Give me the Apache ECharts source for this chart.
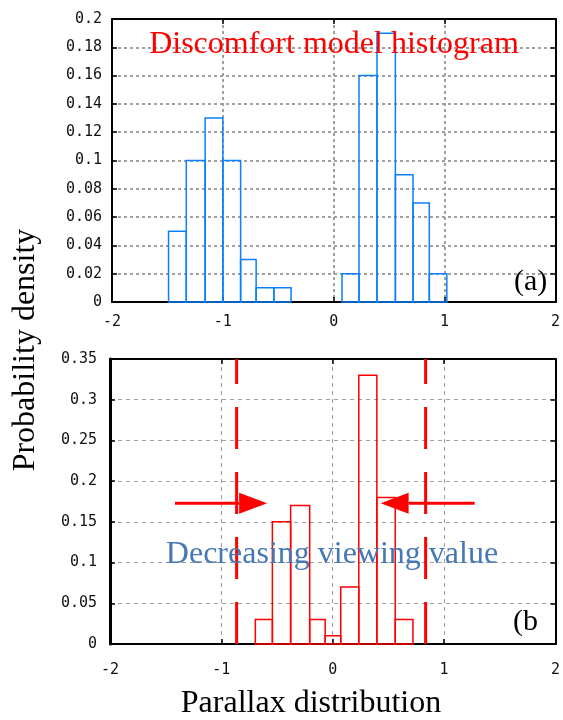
<!DOCTYPE html>
<html>
<head>
<meta charset="utf-8">
<script src="https://cdn.jsdelivr.net/npm/echarts@6/dist/echarts.min.js"></script>
<style>
  html, body { margin: 0; padding: 0; background: #fff; }
  #chart { width: 563px; height: 720px; }
</style>
</head>
<body>
<div id="chart"></div>
<script>
// x ticks shared by both panels
const xTicks = [-2, -1, 0, 1, 2];

// (a) discomfort model histogram - bin edges and heights
const discomfortEdgesNeg = [-1.49, -1.33, -1.16, -1.0, -0.84, -0.70, -0.54, -0.385];
const discomfortNeg = [0.05, 0.10, 0.13, 0.10, 0.03, 0.01, 0.01];
const discomfortEdgesPos = [0.075, 0.228, 0.39, 0.556, 0.715, 0.862, 1.02];
const discomfortPos = [0.02, 0.16, 0.19, 0.09, 0.07, 0.02];
const yTicksA = [0, 0.02, 0.04, 0.06, 0.08, 0.1, 0.12, 0.14, 0.16, 0.18, 0.2];

// (b) viewing histogram
const viewingEdges = [-0.695, -0.542, -0.378, -0.207, -0.068, 0.072, 0.234, 0.396, 0.561, 0.72];
const viewing = [0.03, 0.15, 0.17, 0.03, 0.01, 0.07, 0.33, 0.18, 0.03];
const yTicksB = [0, 0.05, 0.1, 0.15, 0.2, 0.25, 0.3, 0.35];

// dashed comfort bounds and the two arrows [from, to, y]
const boundX = [-0.863, 0.834];
const arrows = [[-1.417, -0.589, 0.1728], [1.274, 0.43, 0.1728]];

const toBins = (edges, h) => h.map((v, i) => [edges[i], edges[i + 1], v]);

const serif = '"Liberation Serif", "Times New Roman", serif';
const mono = '"DejaVu Sans Mono", monospace';

function histSeries(data, xi, yi, color) {
  return {
    type: 'custom',
    xAxisIndex: xi,
    yAxisIndex: yi,
    data: data,
    encode: { x: [0, 1], y: 2 },
    z: 3,
    renderItem: function (params, api) {
      const p0 = api.coord([api.value(0), 0]);
      const p1 = api.coord([api.value(1), api.value(2)]);
      return {
        type: 'rect',
        shape: { x: p0[0], y: p1[1], width: p1[0] - p0[0], height: p0[1] - p1[1] },
        style: { fill: 'none', stroke: color, lineWidth: 1.5 }
      };
    }
  };
}

function xAxisFor(grid, pos, labelMargin, lineW, grid_style) {
  const main = pos === 'bottom';
  return {
    type: 'value', gridIndex: grid, position: pos,
    min: xTicks[0], max: xTicks[xTicks.length - 1], interval: 1,
    axisLine: { show: true, onZero: false, lineStyle: { color: '#000', width: lineW } },
    axisTick: { show: true, inside: true, length: 5, lineStyle: { color: '#000', width: 1.5 } },
    axisLabel: { show: main, margin: labelMargin, color: '#111', fontFamily: mono, fontSize: 15 },
    splitLine: { show: main, lineStyle: grid_style }
  };
}

function yAxisFor(grid, pos, ticks, step, labelMargin, lineW, grid_style) {
  const main = pos === 'left';
  return {
    type: 'value', gridIndex: grid, position: pos,
    min: ticks[0], max: ticks[ticks.length - 1], interval: step,
    axisLine: { show: true, onZero: false, lineStyle: { color: '#000', width: lineW } },
    axisTick: { show: true, inside: true, length: 5, lineStyle: { color: '#000', width: 1.5 } },
    axisLabel: { show: main, margin: labelMargin, color: '#111', fontFamily: mono, fontSize: 15 },
    splitLine: { show: main, lineStyle: grid_style }
  };
}

const gridA = { color: '#a0a0a0', width: 2, type: [3, 3] };
const gridB = { color: '#a0a0a0', width: 1, type: [4, 4] };

const chart = echarts.init(document.getElementById('chart'));

const option = {
  animation: false,
  backgroundColor: '#fff',
  grid: [
    { left: 112, top: 19, width: 444, height: 283 },
    { left: 110, top: 359, width: 446, height: 285 }
  ],
  xAxis: [
    xAxisFor(0, 'bottom', 13, 2, gridA),
    xAxisFor(0, 'top', 13, 2, gridA),
    xAxisFor(1, 'bottom', 19, 2, gridB),
    xAxisFor(1, 'top', 19, 2, gridB)
  ],
  yAxis: [
    yAxisFor(0, 'left', yTicksA, 0.02, 10, 2, gridA),
    yAxisFor(0, 'right', yTicksA, 0.02, 10, 2, gridA),
    yAxisFor(1, 'left', yTicksB, 0.05, 13, 3, gridB),
    yAxisFor(1, 'right', yTicksB, 0.05, 13, 2, gridB)
  ],
  series: [
    histSeries(toBins(discomfortEdgesNeg, discomfortNeg), 0, 0, '#0a80ff'),
    histSeries(toBins(discomfortEdgesPos, discomfortPos), 0, 0, '#0a80ff'),
    histSeries(toBins(viewingEdges, viewing), 2, 2, '#ff0000'),
    ...boundX.map(x => ({
      type: 'line', xAxisIndex: 2, yAxisIndex: 2,
      data: [[x, yTicksB[0]], [x, yTicksB[yTicksB.length - 1]]],
      showSymbol: false, silent: true, z: 4,
      lineStyle: { color: '#ff0000', width: 3, type: [42, 23] }
    })),
    {
      type: 'custom', xAxisIndex: 2, yAxisIndex: 2, z: 5,
      data: arrows,
      encode: { x: [0, 1], y: 2 },
      renderItem: function (params, api) {
        const a = api.coord([api.value(0), api.value(2)]);
        const b = api.coord([api.value(1), api.value(2)]);
        const dir = b[0] > a[0] ? 1 : -1;
        const base = b[0] - dir * 28;
        return {
          type: 'group',
          children: [
            { type: 'line', shape: { x1: a[0], y1: a[1], x2: base, y2: b[1] },
              style: { stroke: '#ff0000', lineWidth: 3 } },
            { type: 'polygon', shape: { points: [[base, b[1] - 10.5], [b[0], b[1]], [base, b[1] + 10.5]] },
              style: { fill: '#ff0000' } }
          ]
        };
      }
    }
  ],
  graphic: [
    { type: 'text', x: 334, y: 45, z: 10,
      style: { text: 'Discomfort model histogram', fill: '#ff0000', font: '32px ' + serif, align: 'center', verticalAlign: 'middle' } },
    { type: 'text', x: 332, y: 555, z: 10,
      style: { text: 'Decreasing viewing value', fill: '#4678b4', font: '32px ' + serif, align: 'center', verticalAlign: 'middle' } },
    { type: 'text', x: 514, y: 282, z: 10,
      style: { text: '(a)', fill: '#000', font: '30px ' + serif, align: 'left', verticalAlign: 'middle' } },
    { type: 'text', x: 513, y: 622, z: 10,
      style: { text: '(b', fill: '#000', font: '30px ' + serif, align: 'left', verticalAlign: 'middle' } },
    { type: 'text', x: 311, y: 704, z: 10,
      style: { text: 'Parallax distribution', fill: '#000', font: '32px ' + serif, align: 'center', verticalAlign: 'middle' } },
    { type: 'text', x: 26, y: 350, rotation: Math.PI / 2, z: 10,
      style: { text: 'Probability density', fill: '#000', font: '32px ' + serif, align: 'center', verticalAlign: 'middle' } }
  ]
};

chart.setOption(option);
</script>
</body>
</html>
